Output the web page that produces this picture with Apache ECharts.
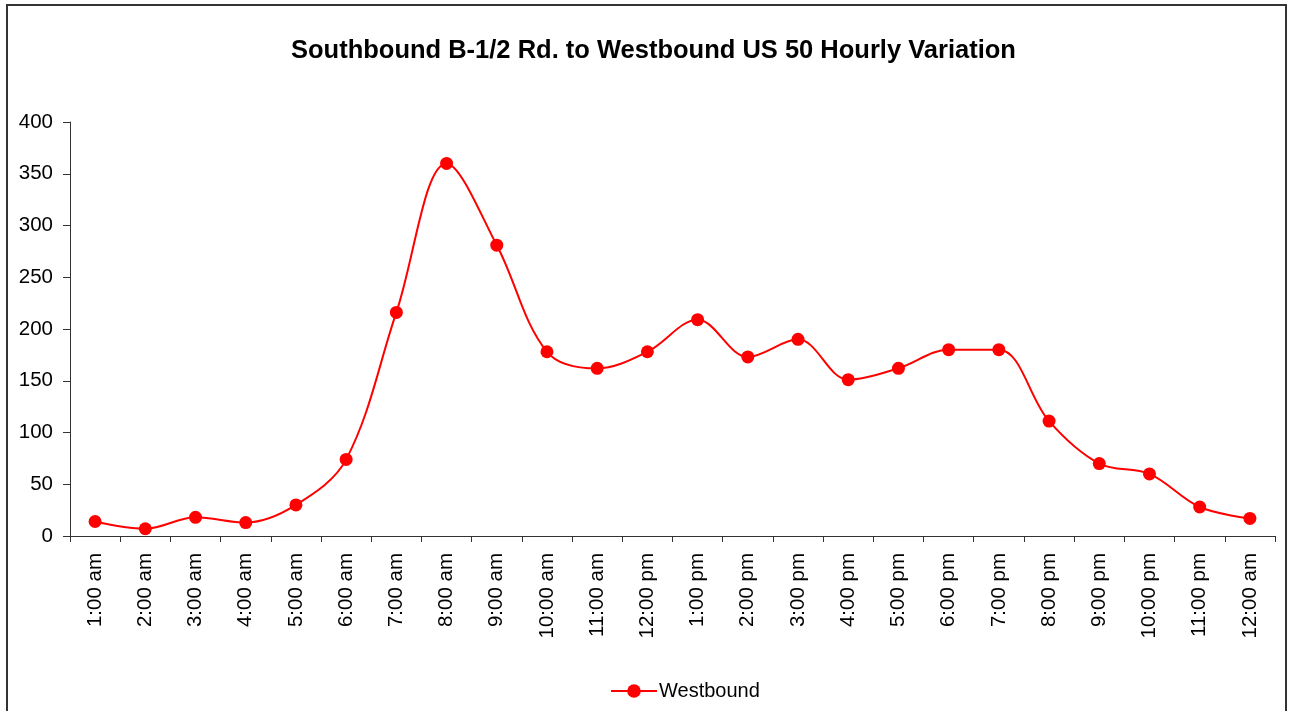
<!DOCTYPE html>
<html><head><meta charset="utf-8">
<script src="https://cdn.jsdelivr.net/npm/echarts@6/dist/echarts.min.js"></script>
<style>html,body{margin:0;padding:0;background:#fff}#c{width:1291px;height:711px}</style>
</head><body><div id="c"></div>
<script>
const categories = ["1:00 am","2:00 am","3:00 am","4:00 am","5:00 am","6:00 am","7:00 am","8:00 am","9:00 am","10:00 am","11:00 am","12:00 pm","1:00 pm","2:00 pm","3:00 pm","4:00 pm","5:00 pm","6:00 pm","7:00 pm","8:00 pm","9:00 pm","10:00 pm","11:00 pm","12:00 am"];
const westbound = [14,7,18,13,30,74,216,360,281,178,162,178,209,173,190,151,162,180,180,111,70,60,28,17];
const chartTitle = "Southbound B-1/2 Rd. to Westbound US 50 Hourly Variation";
const seriesName = "Westbound";

const chart = echarts.init(document.getElementById('c'), null, {renderer:'canvas'});
chart.setOption({
  animation:false,
  backgroundColor:'#fff',
  graphic:[{type:'rect',shape:{x:7,y:5,width:1279,height:720},style:{fill:'none',stroke:'#333',lineWidth:2},silent:true}],
  title:{text:chartTitle,left:286,top:33,textStyle:{fontFamily:'Liberation Sans, Arial',fontWeight:'bold',fontSize:25.5,color:'#000'}},
  legend:{left:605,top:676,itemWidth:46,itemHeight:17,data:[seriesName],textStyle:{fontFamily:'Liberation Sans, Arial',fontSize:20,color:'#000',padding:[0,0,0,-3]}},
  grid:{left:70,right:16,top:122,bottom:175,containLabel:false},
  xAxis:{type:'category',data:categories,boundaryGap:true,
    axisLine:{lineStyle:{color:'#333',width:1}},
    axisTick:{show:true,interval:0,length:6,lineStyle:{color:'#333'}},
    axisLabel:{interval:0,rotate:90,color:'#000',fontFamily:'Liberation Sans, Arial',fontSize:20.5,margin:17}},
  yAxis:{type:'value',min:0,max:400,interval:50,
    axisLine:{show:true,lineStyle:{color:'#333'}},
    axisTick:{show:true,length:7,inside:false,lineStyle:{color:'#333'}},
    splitLine:{show:false},
    axisLabel:{color:'#000',fontFamily:'Liberation Sans, Arial',fontSize:20.5,margin:17}},
  series:[{name:seriesName,type:'line',data:westbound,smooth:0.35,symbol:'circle',symbolSize:13,
    lineStyle:{color:'#ff0000',width:2},itemStyle:{color:'#ff0000'}}]
});
</script></body></html>
